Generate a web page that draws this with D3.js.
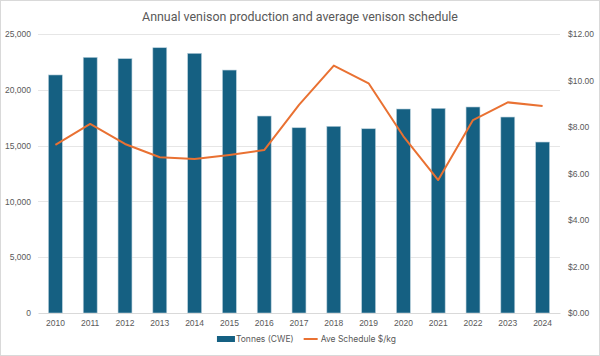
<!DOCTYPE html>
<html><head><meta charset="utf-8">
<script src="https://cdn.jsdelivr.net/npm/d3@7"></script>
<style>
html,body{margin:0;padding:0;background:#fff;}
svg{display:block;font-family:"Inter","Liberation Sans",sans-serif;}
</style></head>
<body>
<svg id="chart" width="600" height="356"></svg>
<script>
const years = ["2010","2011","2012","2013","2014","2015","2016","2017","2018","2019","2020","2021","2022","2023","2024"];
const tonnes = [21330, 22910, 22790, 23770, 23270, 21770, 17650, 16600, 16730, 16510, 18280, 18340, 18460, 17560, 15320];
const schedule = [7.23, 8.13, 7.27, 6.70, 6.62, 6.80, 7.01, 8.95, 10.64, 9.88, 7.60, 5.72, 8.30, 9.06, 8.90];
const leftTicks = [0, 5000, 10000, 15000, 20000, 25000];
const rightTicks = [0, 2, 4, 6, 8, 10, 12];
const title = "Annual venison production and average venison schedule";
const seriesNames = ["Tonnes (CWE)", "Ave Schedule $/kg"];

const barColor = "#156082", lineColor = "#E97132", textColor = "#595959", gridColor = "#e6e6e6";
const svg = d3.select("#chart");
const W = 600, H = 356;
const m = {left: 38, right: 40, top: 34, bottom: 43};

svg.append("rect").attr("x",0.5).attr("y",0.5).attr("width",W-1).attr("height",H-1)
  .attr("fill","#fff").attr("stroke","#d9d9d9");

const x = d3.scaleBand().domain(years).range([m.left, W - m.right]).paddingInner(0.6).paddingOuter(0.3);
const yL = d3.scaleLinear().domain([0, 25000]).range([H - m.bottom, m.top]);
const yR = d3.scaleLinear().domain([0, 12]).range([H - m.bottom, m.top]);

// gridlines
svg.append("g").selectAll("line").data(leftTicks.slice(1)).join("line")
  .attr("x1", m.left).attr("x2", W - m.right)
  .attr("y1", d => Math.round(yL(d)) + 0.5).attr("y2", d => Math.round(yL(d)) + 0.5)
  .attr("stroke", gridColor).attr("stroke-width", 1);

// left axis
const axL = svg.append("g").attr("transform", `translate(${m.left - 6},0)`)
  .call(d3.axisLeft(yL).tickValues(leftTicks).tickSize(0).tickPadding(1).tickFormat(d3.format(",")));
axL.select(".domain").remove();
axL.selectAll("text").attr("fill", textColor).style("font-size","8.5px");

// right axis
const axR = svg.append("g").attr("transform", `translate(${W - m.right + 8},0)`)
  .call(d3.axisRight(yR).tickValues(rightTicks).tickSize(0).tickPadding(0).tickFormat(d => "$" + d3.format(".2f")(d)));
axR.select(".domain").remove();
axR.selectAll("text").attr("fill", textColor).style("font-size","8.5px");

// bars
svg.append("g").selectAll("rect").data(years).join("rect")
  .attr("x", (d) => x(d)).attr("width", x.bandwidth())
  .attr("y", (d,i) => yL(tonnes[i])).attr("height", (d,i) => yL(0) - yL(tonnes[i]))
  .attr("fill", barColor).attr("stroke", "#b9d0dc").attr("stroke-width", 0.6);

// x axis
const axB = svg.append("g").attr("transform", `translate(0,${H - m.bottom})`)
  .call(d3.axisBottom(x).tickSize(0).tickPadding(7));
axB.select(".domain").attr("stroke", "#d9d9d9");
axB.selectAll("text").attr("fill", textColor).style("font-size","8.5px");

// line
const line = d3.line().x((d,i) => x(years[i]) + x.bandwidth()/2).y(d => yR(d));
svg.append("path").datum(schedule).attr("d", line)
  .attr("fill","none").attr("stroke", lineColor).attr("stroke-width", 2).attr("stroke-linejoin","round");

// title (fit to reference width)
const t = svg.append("text").attr("x", 300).attr("y", 21).attr("text-anchor","middle")
  .attr("fill", textColor).style("font-family","Roboto, 'Liberation Sans', sans-serif").style("font-size","14px").text(title);
const tw = t.node().getComputedTextLength();
t.style("font-size", (14 * 316 / tw).toFixed(2) + "px");

// legend (measured, centered)
const lg = svg.append("g").attr("transform","translate(0,339)");
const sw = 18, gapS = 1, gapItem = 8;
const items = seriesNames.map(n => {
  const tmp = lg.append("text").style("font-size","8.5px").text(n);
  const w = tmp.node().getComputedTextLength(); tmp.remove(); return w;
});
const total = items.reduce((a,w) => a + sw + gapS + w, 0) + gapItem;
let cx = 306.5 - total/2;
lg.append("rect").attr("x",cx).attr("y",-3).attr("width",sw).attr("height",6).attr("fill",barColor);
lg.append("text").attr("x",cx+sw+gapS).attr("y",3).attr("fill",textColor).style("font-size","8.5px").text(seriesNames[0]);
cx += sw + gapS + items[0] + gapItem;
lg.append("line").attr("x1",cx+2).attr("x2",cx+sw-2).attr("y1",0).attr("y2",0).attr("stroke",lineColor).attr("stroke-width",2);
lg.append("text").attr("x",cx+sw+gapS).attr("y",3).attr("fill",textColor).style("font-size","8.5px").text(seriesNames[1]);
</script>
</body></html>
